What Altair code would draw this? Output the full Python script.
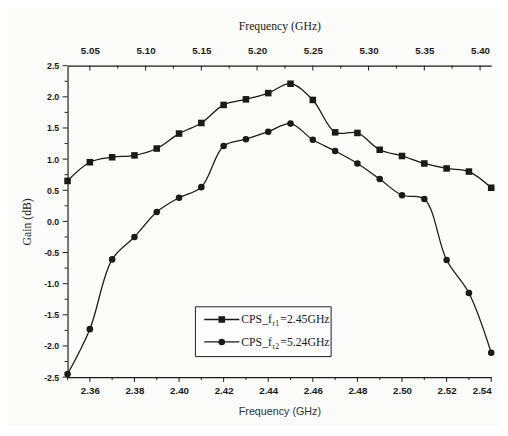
import altair as alt
import pandas as pd

# ---- data ----
freq_low = [2.35, 2.36, 2.37, 2.38, 2.39, 2.40, 2.41, 2.42, 2.43, 2.44,
            2.45, 2.46, 2.47, 2.48, 2.49, 2.50, 2.51, 2.52, 2.53, 2.54]
gain_r1 = [0.65, 0.95, 1.03, 1.06, 1.17, 1.41, 1.58, 1.87, 1.96, 2.06,
           2.21, 1.95, 1.43, 1.42, 1.15, 1.05, 0.93, 0.85, 0.80, 0.54]
freq_high = [5.03, 5.05, 5.07, 5.09, 5.11, 5.13, 5.15, 5.17, 5.19, 5.21,
             5.23, 5.25, 5.27, 5.29, 5.31, 5.33, 5.35, 5.37, 5.39, 5.41]
gain_r2 = [-2.45, -1.73, -0.61, -0.25, 0.15, 0.38, 0.55, 1.21, 1.32, 1.44,
           1.57, 1.31, 1.13, 0.93, 0.68, 0.42, 0.36, -0.62, -1.15, -2.11]

x_low_major = [2.36, 2.38, 2.40, 2.42, 2.44, 2.46, 2.48, 2.50, 2.52, 2.54]
x_low_minor = [2.35, 2.37, 2.39, 2.41, 2.43, 2.45, 2.47, 2.49, 2.51, 2.53]
x_high_major = [5.05, 5.10, 5.15, 5.20, 5.25, 5.30, 5.35, 5.40]
x_high_minor = [5.075, 5.125, 5.175, 5.225, 5.275, 5.325, 5.375]
y_major = [-2.5, -2.0, -1.5, -1.0, -0.5, 0.0, 0.5, 1.0, 1.5, 2.0, 2.5]
y_minor = [-2.25, -1.75, -1.25, -0.75, -0.25, 0.25, 0.75, 1.25, 1.75, 2.25]

legend_main = ["CPS_f", "CPS_f"]
legend_sub = ["r1", "r2"]
legend_val = ["=2.45GHz", "=5.24GHz"]

# ---- layout ----
W, H = 434, 319
INK = "#1a1a1a"

xs_low = alt.Scale(domain=[2.35, 2.54], nice=False, zero=False)
xs_high = alt.Scale(domain=[5.03, 5.41], nice=False, zero=False)
ys = alt.Scale(domain=[-2.5, 2.5], nice=False, zero=False)

ax_low = alt.Axis(orient="bottom", values=x_low_major, format=".2f", ticks=False, grid=False,
                  domainColor=INK, domainWidth=1.2, labelFont="Liberation Sans", labelFontWeight="bold",
                  labelFontSize=10, labelColor=INK, labelPadding=9,
                  title="Frequency  (GHz)", titleFont="Liberation Sans", titleFontWeight="normal",
                  titleFontSize=11, titleColor="#333", titlePadding=10)
ax_high = alt.Axis(orient="top", values=x_high_major, format=".2f", ticks=False, grid=False,
                   domainColor=INK, domainWidth=1.2, labelFont="Liberation Sans", labelFontWeight="bold",
                   labelFontSize=10, labelColor=INK, labelPadding=10,
                   title="Frequency (GHz)", titleFont="Liberation Serif", titleFontWeight="normal",
                   titleFontSize=12, titleColor=INK, titlePadding=14)
ax_y = alt.Axis(values=y_major, ticks=False, grid=False, domainColor=INK, domainWidth=1.2,
                labelExpr="replace(format(datum.value, '.1f'), '\u2212', '-')",
                labelFont="Liberation Sans", labelFontWeight="bold", labelFontSize=9,
                labelColor=INK, labelPadding=9,
                title="Gain (dB)", titleFont="Liberation Serif", titleFontWeight="normal",
                titleFontSize=12, titleColor=INK, titlePadding=10)

XL = alt.X("freq:Q", scale=xs_low, axis=ax_low)
XH = alt.X("freq:Q", scale=xs_high, axis=ax_high)
Y = alt.Y("gain:Q", scale=ys, axis=ax_y)

df_r1 = pd.DataFrame({"freq": freq_low, "gain": gain_r1})
df_r2 = pd.DataFrame({"freq": freq_high, "gain": gain_r2})

line_r1 = alt.Chart(df_r1).mark_line(color=INK, strokeWidth=1.3, interpolate="catmull-rom").encode(x=XL, y=Y)
pts_r1 = alt.Chart(df_r1).mark_point(shape="square", filled=True, size=45, color=INK, opacity=1).encode(x=XL, y=Y)
line_r2 = alt.Chart(df_r2).mark_line(color=INK, strokeWidth=1.3, interpolate="catmull-rom").encode(x=XH, y=Y)
pts_r2 = alt.Chart(df_r2).mark_point(shape="circle", filled=True, size=45, color=INK, opacity=1).encode(x=XH, y=Y)

# ---- tick marks ----
def xticks(values, X, y0, y1):
    return alt.Chart(pd.DataFrame({"freq": values})).mark_rule(color=INK, strokeWidth=1).encode(
        x=X, y=alt.value(y0), y2=alt.value(y1))

def yticks(values, length):
    return alt.Chart(pd.DataFrame({"gain": values})).mark_rule(color=INK, strokeWidth=1).encode(
        y=Y, x=alt.value(0), x2=alt.value(-length))

tick_layers_low = [xticks(x_low_major, XL, H, H + 5), xticks(x_low_minor, XL, H, H + 3),
                   yticks(y_major, 5), yticks(y_minor, 3)]
tick_layers_high = [xticks(x_high_major, XH, 0, 5), xticks(x_high_minor, XH, 0, 3)]

# ---- legend ----
one = pd.DataFrame({"a": [0]})
LX0, LX1, LY0, LY1 = 131, 270, 247, 298
legend_box = alt.Chart(one).mark_rect(fill="#fdfdfd", stroke=INK, strokeWidth=1).encode(
    x=alt.value(LX0), x2=alt.value(LX1), y=alt.value(LY0), y2=alt.value(LY1))

def legend_row(i, yy, shape):
    seg = alt.Chart(one).mark_rule(color=INK, strokeWidth=1.3).encode(
        x=alt.value(140), x2=alt.value(176), y=alt.value(yy))
    mk = alt.Chart(one).mark_point(shape=shape, filled=True, size=45, color=INK, opacity=1).encode(
        x=alt.value(158), y=alt.value(yy))
    t1 = alt.Chart(one).mark_text(align="left", baseline="middle", font="Liberation Serif",
                                  fontSize=12, color=INK).encode(
        x=alt.value(178), y=alt.value(yy), text=alt.value(legend_main[i]))
    t2 = alt.Chart(one).mark_text(align="left", baseline="middle", font="Liberation Serif",
                                  fontSize=8, color=INK).encode(
        x=alt.value(210), y=alt.value(yy + 5), text=alt.value(legend_sub[i]))
    t3 = alt.Chart(one).mark_text(align="left", baseline="middle", font="Liberation Serif",
                                  fontSize=12, color=INK).encode(
        x=alt.value(218), y=alt.value(yy), text=alt.value(legend_val[i]))
    return [seg, mk, t1, t2, t3]

legend_layers = [legend_box] + legend_row(0, 260, "square") + legend_row(1, 283, "circle")

bottom = alt.layer(line_r1, pts_r1, *tick_layers_low, *legend_layers)
top = alt.layer(line_r2, pts_r2, *tick_layers_high)

chart = alt.layer(bottom, top).resolve_scale(x="independent").properties(
    width=W, height=H, background="#fbfbf9",
    padding={"left": 13, "top": 7, "right": 5, "bottom": 5}
).configure_view(stroke=None)

chart.save("out.html", embed_options={"renderer": "svg", "actions": False})
